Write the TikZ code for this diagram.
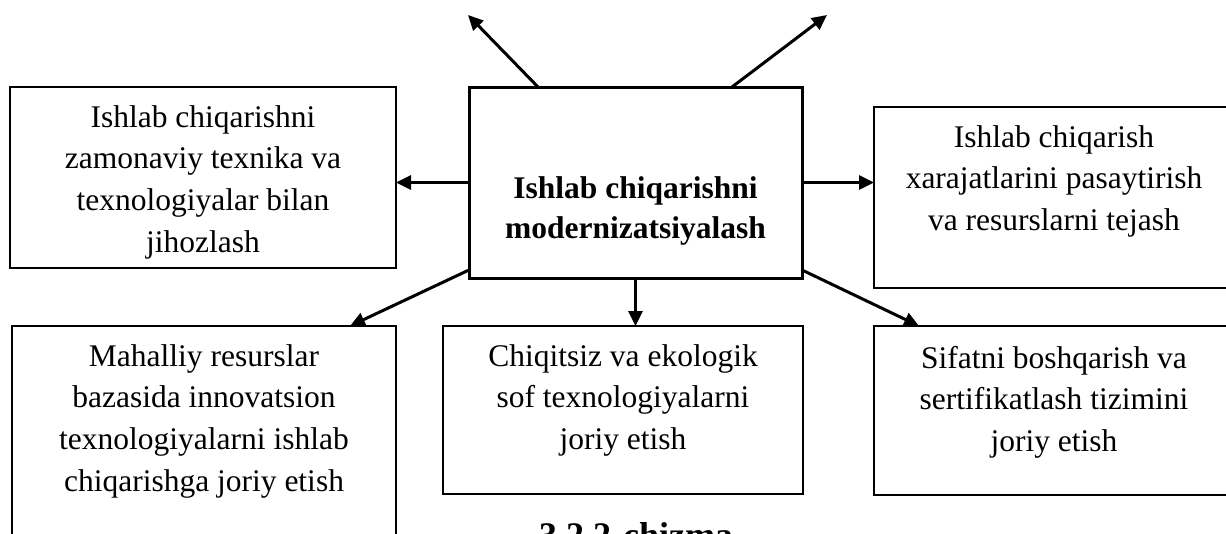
\documentclass[tikz,border=0pt]{standalone}
\usepackage{fontspec}
\setmainfont{Liberation Serif}
\usetikzlibrary{arrows.meta}

\begin{document}
\begin{tikzpicture}[
                x=1pt,y=-1pt, % pixel units
                box/.style={draw,line width=2pt,align=center,anchor=north west,
                            inner sep=0pt,outer sep=0pt,text height=123.6pt,
                            font=\fontsize{31.5}{41.8}\selectfont},
                arr/.style={line width=3pt,-{Triangle[length=15pt,width=14pt]}}]

\useasboundingbox (0,0) rectangle (1226,533);

                    % centre
                    \node[box,line width=3pt,minimum width=333pt,text height=151pt,text depth=40pt,
                          font=\bfseries\fontsize{31.5}{40}\selectfont] (modern) at (469,87)
                          {Ishlab chiqarishni\\modernizatsiyalash};

                    % top row
                    \node[box,minimum width=386pt,text height=165.4pt,text depth=15.6pt] (equip) at (10,87)
                          {Ishlab chiqarishni\\zamonaviy texnika va\\texnologiyalar bilan\\jihozlash}; % 1
                    \node[box,minimum width=360pt,text depth=57.4pt] (costs) at (874,107)
                          {Ishlab chiqarish\\xarajatlarini pasaytirish\\va resurslarni tejash}; % 2

                    % bottom row
                    \node[box,minimum width=384pt,text height=165.4pt,text depth=68.6pt] (local) at (12,326)
                          {Mahalliy resurslar\\bazasida innovatsion\\texnologiyalarni ishlab\\chiqarishga joriy etish}; % 3
                    \node[box,minimum width=360pt,text depth=44.4pt] (clean) at (443,326)
                          {Chiqitsiz va ekologik\\sof texnologiyalarni\\joriy etish}; % 4
                    \node[box,minimum width=360pt,text height=125.6pt,text depth=43.4pt] (quality) at (874,326)
                          {Sifatni boshqarish va\\sertifikatlash tizimini\\joriy etish}; % 5

                    \node[anchor=base,font=\bfseries\fontsize{36}{40}\selectfont] (caption) at (636,547) {3.2.2-chizma};

                    \coordinate (upL) at (468,15);
                    \coordinate (upR) at (827,15);

                    \draw[arr] ([xshift=69pt]modern.north west) -- (upL);
                    \draw[arr] ([xshift=-70pt]modern.north east) -- (upR);
                    \draw[arr] (modern.west) -- (modern.west -| equip.east);
                    \draw[arr] (modern.east) -- (modern.east -| costs.west);
                    \draw[arr] ([yshift=8pt]modern.south west) -- ([xshift=-46pt]local.north east);
                    \draw[arr] (modern.south) -- (modern.south |- clean.north);
                    \draw[arr] ([yshift=8pt]modern.south east) -- ([xshift=45pt]quality.north west);

\end{tikzpicture}
\end{document}
